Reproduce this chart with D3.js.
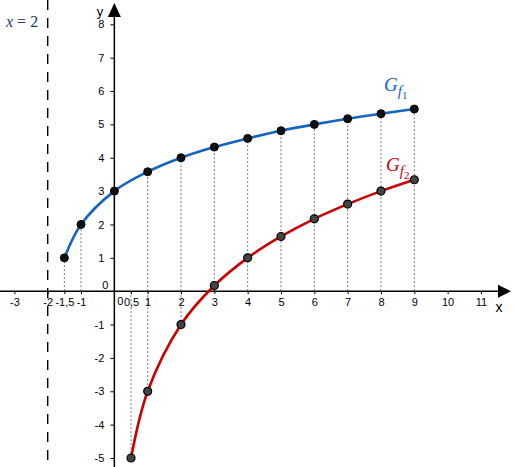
<!DOCTYPE html>
<html><head><meta charset="utf-8">
<script src="https://cdn.jsdelivr.net/npm/d3@7"></script>
<style>body{margin:0;background:#fff}svg{display:block}</style>
</head><body>
<script>
// Data
const f1X = [-1.5, -1, 0, 1, 2, 3, 4, 5, 6, 7, 8, 9];
const f1Y = [1, 2, 3, 3.58, 4, 4.32, 4.58, 4.81, 5, 5.17, 5.32, 5.46];
const f2X = [0.5, 1, 2, 3, 4, 5, 6, 7, 8, 9];
const f2Y = [-5, -3, -1, 0.17, 1, 1.64, 2.17, 2.61, 3, 3.34];
const xTicks = [-3, -2, -1.5, -1, 0.5, 1, 2, 3, 4, 5, 6, 7, 8, 9, 10, 11];
const yTicks = [-5, -4, -3, -2, -1, 1, 2, 3, 4, 5, 6, 7, 8];
const asymptoteX = -2;

const W = 516, H = 467;
const svg = d3.select("body").append("svg").attr("width", W).attr("height", H);
const x = d3.scaleLinear().domain([-2, 9]).range([47.7, 414.3]);
const y = d3.scaleLinear().domain([8, -5]).range([24.3, 458]);
const fmt = v => String(v).replace(".", ",");
const font = "'Liberation Sans', Arial, sans-serif";

// dotted guide lines
const guides = [];
f1X.forEach((v, i) => guides.push({x: v, y0: 0, y1: f1Y[i]}));
f2X.forEach((v, i) => { if (f2Y[i] < 0) guides.push({x: v, y0: 0, y1: f2Y[i]}); });
svg.append("g").selectAll("line").data(guides).join("line")
  .attr("x1", d => x(d.x)).attr("x2", d => x(d.x))
  .attr("y1", d => y(d.y0)).attr("y2", d => y(d.y1))
  .attr("stroke", "#777").attr("stroke-width", 1).attr("stroke-dasharray", "2,2");

// asymptote
svg.append("line").attr("x1", x(asymptoteX)).attr("x2", x(asymptoteX))
  .attr("y1", 0).attr("y2", H).attr("stroke", "#000").attr("stroke-width", 1.4)
  .attr("stroke-dasharray", "10,8");

// x axis
const xAxis = svg.append("g").attr("transform", `translate(0,${y(0)})`)
  .call(d3.axisBottom(x).tickValues(xTicks).tickFormat(fmt).tickSize(3).tickPadding(4));
xAxis.select(".domain").remove();
xAxis.selectAll("text").attr("font-family", font).attr("font-size", 11).attr("fill", "#000");
svg.append("line").attr("x1", 0).attr("x2", 500).attr("y1", y(0)).attr("y2", y(0))
  .attr("stroke", "#000").attr("stroke-width", 1.5);
svg.append("path").attr("d", `M${498},${y(0)-6.5}L${511},${y(0)}L${498},${y(0)+6.5}Z`).attr("fill", "#000");

// y axis
const yAxis = svg.append("g").attr("transform", `translate(${x(0)},0)`)
  .call(d3.axisLeft(y).tickValues(yTicks).tickFormat(fmt).tickSize(4).tickPadding(6));
yAxis.select(".domain").remove();
yAxis.selectAll("text").attr("font-family", font).attr("font-size", 11).attr("fill", "#000");
svg.append("line").attr("x1", x(0)).attr("x2", x(0)).attr("y1", H).attr("y2", 12)
  .attr("stroke", "#000").attr("stroke-width", 1.5);
svg.append("path").attr("d", `M${x(0)-6.5},${17}L${x(0)},${3}L${x(0)+6.5},${17}Z`).attr("fill", "#000");

// zero labels and axis names
svg.append("text").attr("x", x(0) - 6).attr("y", y(0) - 2).attr("text-anchor", "end")
  .attr("font-family", font).attr("font-size", 11).text("0");
svg.append("text").attr("x", x(0) + 6).attr("y", y(0) + 14).attr("text-anchor", "middle")
  .attr("font-family", font).attr("font-size", 11).text("0");
svg.append("text").attr("x", 100).attr("y", 16).attr("text-anchor", "middle")
  .attr("font-family", font).attr("font-size", 13).text("y");
svg.append("text").attr("x", 499).attr("y", 312).attr("text-anchor", "middle")
  .attr("font-family", font).attr("font-size", 14).text("x");

// curves
const line = d3.line().x(d => x(d[0])).y(d => y(d[1])).curve(d3.curveCatmullRom.alpha(0.5));
const p1 = f1X.map((v, i) => [v, f1Y[i]]);
const p2 = f2X.map((v, i) => [v, f2Y[i]]);
svg.append("path").attr("d", line(p1)).attr("fill", "none").attr("stroke", "#1565c0").attr("stroke-width", 2.6);
svg.append("path").attr("d", line(p2)).attr("fill", "none").attr("stroke", "#cc0000").attr("stroke-width", 2.6);

// points
svg.append("g").selectAll("circle").data(p1).join("circle")
  .attr("cx", d => x(d[0])).attr("cy", d => y(d[1])).attr("r", 4)
  .attr("fill", "#111").attr("stroke", "#000");
svg.append("g").selectAll("circle").data(p2).join("circle")
  .attr("cx", d => x(d[0])).attr("cy", d => y(d[1])).attr("r", 4)
  .attr("fill", "#444").attr("stroke", "#000").attr("stroke-width", 1.2);

// function labels
function gLabel(px, py, sub, color) {
  const t = svg.append("text").attr("x", px).attr("y", py)
    .attr("font-family", "'Liberation Serif', 'DejaVu Serif', serif").attr("font-style", "italic")
    .attr("font-size", 19).attr("fill", color);
  t.append("tspan").text("G");
  t.append("tspan").attr("dy", 5).attr("font-size", 15).text("f");
  t.append("tspan").attr("dy", 3).attr("font-size", 11).attr("font-style", "normal").text(sub);
}
gLabel(384, 91, "1", "#1565c0");
gLabel(386, 171, "2", "#cc0000");

// asymptote label
const a = svg.append("text").attr("x", 6).attr("y", 27)
  .attr("font-family", "'Liberation Serif', 'DejaVu Serif', serif").attr("font-size", 16).attr("fill", "#24386e");
a.append("tspan").attr("font-style", "italic").text("x");
a.append("tspan").text(" = 2");
</script>
</body></html>
